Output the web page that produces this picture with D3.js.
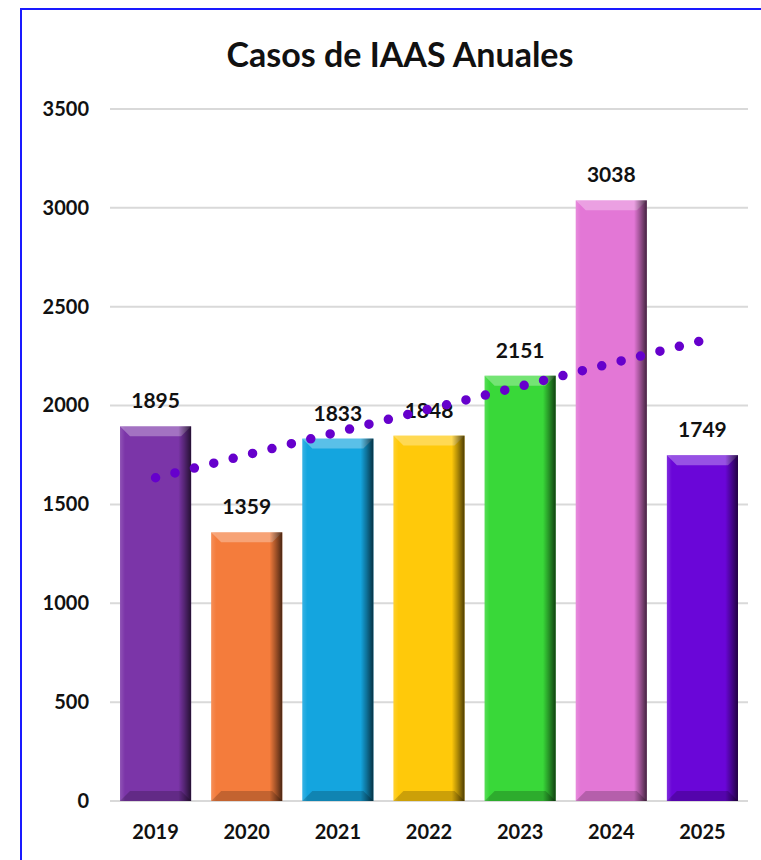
<!DOCTYPE html>
<html>
<head>
<meta charset="utf-8">
<script src="https://cdn.jsdelivr.net/npm/d3@7"></script>
<style>
  body { margin: 0; background: #fff; }
  svg text { font-family: Lato, "Open Sans", sans-serif; font-weight: bold; fill: #111; }
</style>
</head>
<body>
<div id="chart"></div>
<script>
// Data
var years = ["2019", "2020", "2021", "2022", "2023", "2024", "2025"];
var casos = [1895, 1359, 1833, 1848, 2151, 3038, 1749];
var colores = ["#7b35a8", "#f47c3c", "#14a5df", "#ffc90a", "#39d839", "#e377d6", "#6a06d8"];
var yTicks = [0, 500, 1000, 1500, 2000, 2500, 3000, 3500];

var width = 761, height = 860;
var svg = d3.select("#chart").append("svg")
    .attr("width", width)
    .attr("height", height);

// blue frame (runs off the right/bottom edges like the screenshot)
svg.append("rect")
    .attr("x", 21).attr("y", 9)
    .attr("width", 800).attr("height", 900)
    .attr("fill", "none").attr("stroke", "#1a1aff").attr("stroke-width", 2);

svg.append("text")
    .attr("x", 400).attr("y", 67)
    .attr("text-anchor", "middle")
    .style("font-size", "34px")
    .text("Casos de IAAS Anuales");

var x = d3.scaleBand().domain(years).range([110, 748]).paddingInner(0.22).paddingOuter(0.11);
var y = d3.scaleLinear().domain([0, 3500]).range([801, 109]);

// gridlines
svg.append("g").selectAll("line").data(yTicks).join("line")
    .attr("x1", 110).attr("x2", 748)
    .attr("y1", d => y(d)).attr("y2", d => y(d))
    .attr("stroke", "#d9d9d9").attr("stroke-width", 2);

// y axis labels
var yAxis = svg.append("g")
    .attr("transform", "translate(89,0)")
    .call(d3.axisLeft(y).tickValues(yTicks).tickFormat(d3.format("d")).tickSize(0).tickPadding(0));
yAxis.select(".domain").remove();
yAxis.selectAll("text").style("font-size", "20px").attr("fill", "#111");

// x axis labels
var xAxis = svg.append("g")
    .attr("transform", "translate(0,825)")
    .call(d3.axisBottom(x).tickSize(0).tickPadding(0));
xAxis.select(".domain").remove();
xAxis.selectAll("text").style("font-size", "20px").attr("fill", "#111").attr("dy", "0.71em");

// gradients for bevel look
var defs = svg.append("defs");
var side = defs.append("linearGradient").attr("id", "side").attr("x1", 0).attr("x2", 1);
side.append("stop").attr("offset", "0").attr("stop-color", "#fff").attr("stop-opacity", 0.15);
side.append("stop").attr("offset", "0.07").attr("stop-color", "#fff").attr("stop-opacity", 0);
side.append("stop").attr("offset", "0.82").attr("stop-color", "#000").attr("stop-opacity", 0);
side.append("stop").attr("offset", "0.9").attr("stop-color", "#000").attr("stop-opacity", 0.3);
side.append("stop").attr("offset", "1").attr("stop-color", "#000").attr("stop-opacity", 0.7);

var bars = svg.append("g").selectAll("g").data(years).join("g");
var bw = x.bandwidth(), bev = 10;

bars.append("rect")
    .attr("x", d => x(d)).attr("y", (d, i) => y(casos[i]))
    .attr("width", bw).attr("height", (d, i) => y(0) - y(casos[i]))
    .attr("fill", (d, i) => colores[i]);

// top bevel (lighter)
bars.append("path")
    .attr("d", (d, i) => {
      var x0 = x(d), t = y(casos[i]);
      return "M" + x0 + "," + t + "L" + (x0 + bw) + "," + t + "L" + (x0 + bw - bev) + "," + (t + bev) + "L" + (x0 + bev) + "," + (t + bev) + "Z";
    })
    .attr("fill", "#fff").attr("opacity", 0.3);

// bottom bevel (darker)
bars.append("path")
    .attr("d", (d, i) => {
      var x0 = x(d), b = y(0);
      return "M" + x0 + "," + b + "L" + (x0 + bw) + "," + b + "L" + (x0 + bw - bev) + "," + (b - bev) + "L" + (x0 + bev) + "," + (b - bev) + "Z";
    })
    .attr("fill", "#000").attr("opacity", 0.2);

// side shading
bars.append("rect")
    .attr("x", d => x(d)).attr("y", (d, i) => y(casos[i]))
    .attr("width", bw).attr("height", (d, i) => y(0) - y(casos[i]))
    .attr("fill", "url(#side)");

// value labels
svg.append("g").selectAll("text").data(years).join("text")
    .attr("x", d => x(d) + bw / 2)
    .attr("y", (d, i) => y(casos[i]) - 18)
    .attr("text-anchor", "middle")
    .style("font-size", "21px")
    .text((d, i) => casos[i]);

// linear trendline (least squares over the bars)
var n = casos.length;
var mx = (n + 1) / 2, my = d3.mean(casos);
var sxy = d3.sum(casos, (v, i) => (i + 1 - mx) * (v - my));
var sxx = d3.sum(casos, (v, i) => (i + 1 - mx) * (i + 1 - mx));
var slope = sxy / sxx, icpt = my - slope * mx;
var trend = years.map((d, i) => [x(d) + bw / 2, y(icpt + slope * (i + 1))]);

svg.append("path")
    .attr("d", d3.line()(trend))
    .attr("fill", "none")
    .attr("stroke", "#6600cc")
    .attr("stroke-width", 9.5)
    .attr("stroke-linecap", "round")
    .attr("stroke-dasharray", "0 20");
</script>
</body>
</html>
